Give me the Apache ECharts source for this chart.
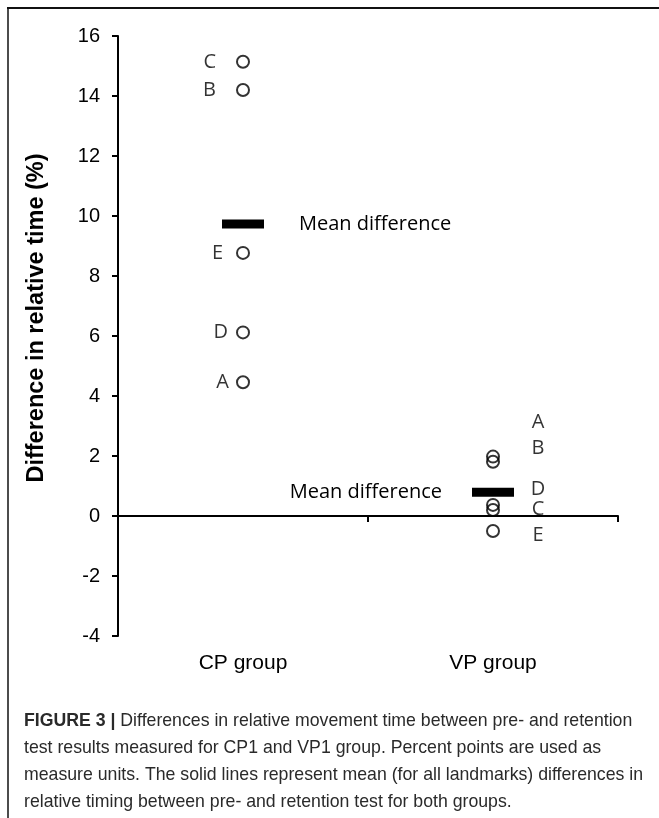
<!DOCTYPE html>
<html>
<head>
<meta charset="utf-8">
<script src="https://cdn.jsdelivr.net/npm/echarts@6/dist/echarts.min.js"></script>
<style>
  html, body { margin: 0; padding: 0; background: #fff; }
  #chart { width: 659px; height: 818px; }
</style>
</head>
<body>
<div id="chart"></div>
<script>
// ---- data ----
var categories = ['CP group', 'VP group'];
var yTicks = { min: -4, max: 16, interval: 2 };
var yTitle = 'Difference in relative time (%)';

var cpLetters = ['C', 'B', 'E', 'D', 'A'];
var cpValues  = [15.14, 14.2, 8.77, 6.12, 4.46];

var vpValues  = [1.98, 1.81, 0.37, 0.2, -0.5];
var vpLetters = ['A', 'B', 'D', 'C', 'E'];
var vpLetterY = [3.14, 2.26, 0.9, 0.23, -0.63];

var meanValues = [9.73, 0.79];
var meanLabel = 'Mean difference';

var captionLines = [
  ['FIGURE 3 | ', 'Differences in relative movement time between pre- and retention'],
  ['', 'test results measured for CP1 and VP1 group. Percent points are used as'],
  ['', 'measure units. The solid lines represent mean (for all landmarks) differences in'],
  ['', 'relative timing between pre- and retention test for both groups.']
];

// ---- chart ----
var plotFont = 'Open Sans';
var plotSize = 20;
var cpLabelGap = { C: 20, B: 20, E: 13, D: 8, A: 7 };

var chart = echarts.init(document.getElementById('chart'), null, { renderer: 'canvas' });

var graphics = [
  { type: 'line', shape: { x1: 7, y1: 8, x2: 659, y2: 8 }, style: { stroke: '#111', lineWidth: 2 } },
  { type: 'line', shape: { x1: 8, y1: 8, x2: 8, y2: 818 }, style: { stroke: '#111', lineWidth: 1.5 } },
  {
    type: 'text', x: 37, y: 318, rotation: Math.PI / 2,
    style: { text: yTitle, fontFamily: 'Liberation Sans', fontWeight: 'bold', fontSize: 23.5,
             fill: '#000', align: 'center', verticalAlign: 'middle' }
  }
];
captionLines.forEach(function (ln, i) {
  graphics.push({
    type: 'text',
    left: 24,
    top: 712 + i * 27,
    style: {
      text: (ln[0] ? '{b|' + ln[0] + '}' : '') + '{r|' + ln[1] + '}',
      rich: {
        b: { fontFamily: 'Liberation Sans', fontWeight: 'bold', fontSize: 17.7, fill: '#2a2a2a' },
        r: { fontFamily: 'Liberation Sans', fontSize: 17.7, fill: '#2a2a2a' }
      }
    }
  });
});

var option = {
  backgroundColor: '#fff',
  animation: false,
  grid: { left: 118, top: 36, width: 500, height: 600, containLabel: false },
  xAxis: [
    {
      type: 'category', data: categories, boundaryGap: true,
      axisLine: { onZero: true, lineStyle: { color: '#000', width: 2 } },
      axisTick: { show: true, length: 6, lineStyle: { color: '#000', width: 2 } },
      axisLabel: { show: false },
      splitLine: { show: false }
    },
    {
      type: 'category', data: categories, boundaryGap: true, position: 'bottom',
      axisLine: { show: false, onZero: false },
      axisTick: { show: false },
      axisLabel: { show: true, fontFamily: 'Liberation Sans', fontSize: 21, color: '#000', margin: 17 },
      splitLine: { show: false }
    }
  ],
  yAxis: {
    type: 'value', min: yTicks.min, max: yTicks.max, interval: yTicks.interval,
    axisLine: { show: true, lineStyle: { color: '#000', width: 2 } },
    axisTick: { show: true, length: 6, lineStyle: { color: '#000', width: 2 } },
    axisLabel: { fontFamily: 'Liberation Sans', fontSize: 20, color: '#000', margin: 18 },
    splitLine: { show: false }
  },
  series: [
    {
      name: 'CP', type: 'scatter', xAxisIndex: 0,
      symbol: 'circle', symbolSize: 12,
      itemStyle: { color: '#fff', borderColor: '#000', borderWidth: 2 },
      data: cpValues.map(function (v, i) {
        return {
          value: [0, v],
          label: { show: true, position: 'left', distance: cpLabelGap[cpLetters[i]],
                   formatter: cpLetters[i], fontFamily: plotFont, fontSize: plotSize, color: '#000' }
        };
      }),
      z: 3
    },
    {
      name: 'VP', type: 'scatter', xAxisIndex: 0,
      symbol: 'circle', symbolSize: 12,
      itemStyle: { color: 'rgba(255,255,255,0)', borderColor: '#000', borderWidth: 2 },
      data: vpValues.map(function (v) { return [1, v]; }),
      z: 3
    },
    {
      name: 'VP letters', type: 'scatter', xAxisIndex: 0,
      symbolSize: 0, silent: true,
      label: { show: true, position: 'inside', offset: [45, 0],
               fontFamily: plotFont, fontSize: plotSize, color: '#000',
               formatter: function (p) { return vpLetters[p.dataIndex]; } },
      data: vpLetterY.map(function (v) { return [1, v]; }),
      z: 4
    },
    {
      name: 'Mean', type: 'scatter', xAxisIndex: 0,
      symbol: 'rect', symbolSize: [42, 9],
      itemStyle: { color: '#000', opacity: 1 },
      data: [
        { value: [0, meanValues[0]], label: { show: true, position: 'right', distance: 35, formatter: meanLabel,
          fontFamily: plotFont, fontSize: plotSize, color: '#000' } },
        { value: [1, meanValues[1]], label: { show: true, position: 'left', distance: 30, formatter: meanLabel,
          fontFamily: plotFont, fontSize: plotSize, color: '#000' } }
      ],
      z: 2
    }
  ],
  graphic: graphics
};
chart.setOption(option);
</script>
</body>
</html>
